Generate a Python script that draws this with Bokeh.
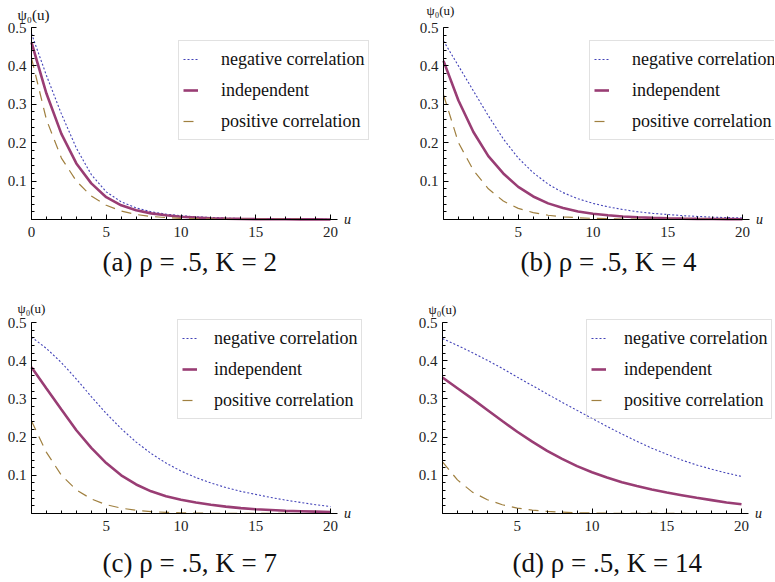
from bokeh.plotting import figure
from bokeh.models import Range1d, FixedTicker, Legend, LegendItem, Label
from bokeh.layouts import column, row
from bokeh.embed import file_html
from bokeh.resources import INLINE

# ---------------- data ----------------
u = [0, 1, 2, 3, 4, 5, 6, 7, 8, 9, 10, 11, 12, 13, 14, 15, 16, 17, 18, 19, 20]

a_neg = [0.484, 0.375, 0.275, 0.186, 0.117, 0.072, 0.046, 0.030, 0.020, 0.014, 0.010,
         0.007, 0.005, 0.0035, 0.0025, 0.0018, 0.0013, 0.0009, 0.0006, 0.0004, 0.0003]
a_ind = [0.461, 0.328, 0.223, 0.146, 0.094, 0.058, 0.037, 0.024, 0.016, 0.011, 0.007,
         0.005, 0.0033, 0.0022, 0.0015, 0.001, 0.0007, 0.0005, 0.0003, 0.0002, 0.0001]
a_pos = [0.42, 0.26, 0.16, 0.10, 0.061, 0.037, 0.022, 0.013, 0.008, 0.005, 0.003,
         0.002, 0.0012, 0.0008, 0.0005, 0.0003, 0.0002, 0.0001, 0.0001, 0.0, 0.0]

b_neg = [0.465, 0.40, 0.335, 0.27, 0.21, 0.16, 0.122, 0.092, 0.07, 0.054, 0.042,
         0.033, 0.026, 0.020, 0.016, 0.013, 0.010, 0.008, 0.006, 0.005, 0.004]
b_ind = [0.413, 0.31, 0.228, 0.165, 0.12, 0.085, 0.06, 0.042, 0.03, 0.021, 0.015,
         0.011, 0.008, 0.0058, 0.0042, 0.003, 0.0022, 0.0016, 0.0012, 0.0009, 0.0006]
b_pos = [0.325, 0.20, 0.128, 0.08, 0.048, 0.029, 0.018, 0.011, 0.007, 0.0045, 0.003,
         0.002, 0.0013, 0.0009, 0.0006, 0.0004, 0.0003, 0.0002, 0.0001, 0.0001, 0.0]

c_neg = [0.462, 0.432, 0.395, 0.352, 0.306, 0.262, 0.222, 0.187, 0.157, 0.132, 0.111,
         0.094, 0.080, 0.068, 0.058, 0.050, 0.042, 0.035, 0.029, 0.023, 0.018]
c_ind = [0.383, 0.327, 0.272, 0.218, 0.172, 0.132, 0.1, 0.076, 0.058, 0.045, 0.036,
         0.029, 0.023, 0.018, 0.014, 0.011, 0.009, 0.007, 0.006, 0.005, 0.004]
c_pos = [0.242, 0.16, 0.10, 0.062, 0.038, 0.023, 0.014, 0.0085, 0.005, 0.003, 0.002,
         0.0012, 0.0007, 0.0004, 0.0003, 0.0002, 0.0001, 0.0001, 0.0, 0.0, 0.0]

d_neg = [0.458, 0.44, 0.421, 0.401, 0.38, 0.357, 0.335, 0.313, 0.291, 0.27, 0.249,
         0.228, 0.208, 0.189, 0.171, 0.155, 0.14, 0.127, 0.116, 0.106, 0.097]
d_ind = [0.356, 0.328, 0.300, 0.271, 0.242, 0.214, 0.188, 0.164, 0.143, 0.124, 0.108,
         0.094, 0.082, 0.072, 0.063, 0.055, 0.048, 0.041, 0.035, 0.029, 0.024]
d_pos = [0.135, 0.088, 0.056, 0.036, 0.023, 0.014, 0.009, 0.0055, 0.0035, 0.002, 0.0013,
         0.0008, 0.0005, 0.0003, 0.0002, 0.0001, 0.0001, 0.0, 0.0, 0.0, 0.0]

series_names = ["negative correlation", "independent", "positive correlation"]
x_ticks_a = [0, 5, 10, 15, 20]
x_ticks_other = [5, 10, 15, 20]
y_ticks = [0.1, 0.2, 0.3, 0.4, 0.5]
captions = ["(a)  ρ = .5,  K = 2", "(b)  ρ = .5,  K = 4",
            "(c)  ρ = .5,  K = 7", "(d)  ρ = .5,  K = 14"]

# ---------------- styling ----------------
NEG_COLOR = "#4343b8"
IND_COLOR = "#993d74"
POS_COLOR = "#a08040"
SERIF = "Liberation Serif"
TXT = "#111111"


def make_panel(W, H, x0, y0, sx, sy, neg, ind, pos, xticks, caption,
               cap_px, leg_loc, leg_standoff, psi_px, psi_size):
    """W,H figure size; (x0,y0) pixel of the origin from top-left;
    sx, sy pixels per data unit."""
    def dx(px):
        return (px - x0) / sx

    def dy(py):
        return (y0 - py) / sy

    p = figure(width=W, height=H,
               x_range=Range1d(dx(0), dx(W)), y_range=Range1d(dy(H), dy(0)),
               output_backend="svg", toolbar_location=None, min_border=0)
    p.title.visible = False
    p.xgrid.visible = False
    p.ygrid.visible = False
    p.outline_line_color = None
    p.background_fill_color = "white"
    p.border_fill_color = "white"

    r1 = p.line(u, neg, line_color=NEG_COLOR, line_width=1.1, line_dash="2 2")
    r2 = p.line(u, ind, line_color=IND_COLOR, line_width=2.6)
    r3 = p.line(u, pos, line_color=POS_COLOR, line_width=1.2, line_dash="10 7")

    p.xaxis.ticker = FixedTicker(ticks=xticks, minor_ticks=list(range(0, 21)))
    p.yaxis.ticker = FixedTicker(ticks=y_ticks,
                                 minor_ticks=[i * 0.02 for i in range(26)])
    p.xaxis.fixed_location = 0
    p.yaxis.fixed_location = 0
    p.xaxis.bounds = (0, 20.5)
    p.yaxis.bounds = (0, 0.5)
    for ax in (p.xaxis, p.yaxis):
        ax.axis_line_color = "black"
        ax.axis_line_width = 1
        ax.major_tick_line_color = "black"
        ax.minor_tick_line_color = "black"
        ax.major_tick_in = 5
        ax.major_tick_out = 0
        ax.minor_tick_in = 3
        ax.minor_tick_out = 0
        ax.major_label_text_font = SERIF
        ax.major_label_text_font_size = "15px"
        ax.major_label_text_color = "#222222"
    p.xaxis.major_label_standoff = 7
    p.yaxis.major_label_standoff = 5

    legend = Legend(items=[LegendItem(label=series_names[0], renderers=[r1]),
                           LegendItem(label=series_names[1], renderers=[r2]),
                           LegendItem(label=series_names[2], renderers=[r3])],
                    location=leg_loc, margin=0, padding=4, spacing=3,
                    label_height=28, glyph_height=28, glyph_width=15,
                    label_standoff=leg_standoff,
                    label_text_font=SERIF, label_text_font_size="18px",
                    label_text_color=TXT,
                    border_line_color="#c4c4c4", border_line_width=1,
                    background_fill_alpha=0)
    p.add_layout(legend)

    p.add_layout(Label(x=dx(psi_px[0]), y=dy(psi_px[1]), text="ψ₀(u)",
                       text_align="center", text_baseline="middle",
                       text_font=SERIF, text_font_size=psi_size,
                       text_color=TXT))
    p.add_layout(Label(x=20.5, y=0, text="u", text_align="left",
                       text_baseline="middle", x_offset=6,
                       text_font=SERIF, text_font_style="italic",
                       text_font_size="14px", text_color=TXT))
    p.add_layout(Label(x=dx(cap_px[0]), y=dy(cap_px[1]), text=caption,
                       text_align="left", text_baseline="middle",
                       text_font=SERIF, text_font_size="27px",
                       text_color=TXT))
    return p


# figure-relative pixel geometry
pa = make_panel(398, 290, 31, 219, 14.95, 384, a_neg, a_ind, a_pos, x_ticks_a,
                captions[0], (102, 261), (178, 150), 23, (33, 14), "15px")
pb = make_panel(376, 290, 45, 219, 14.95, 384, b_neg, b_ind, b_pos, x_ticks_other,
                captions[1], (122, 261), (191, 150), 23, (42, 10), "13px")
pc = make_panel(398, 291, 31, 223, 14.95, 382, c_neg, c_ind, c_pos, x_ticks_other,
                captions[2], (102, 272), (177, 162), 17, (31, 18), "13px")
pd = make_panel(376, 291, 44, 223, 14.95, 382, d_neg, d_ind, d_pos, x_ticks_other,
                captions[3], (114, 272), (188, 162), 18, (44, 19), "13px")

layout = column(row(pa, pb), row(pc, pd))

open("out.html", "w").write(file_html(layout, INLINE))
